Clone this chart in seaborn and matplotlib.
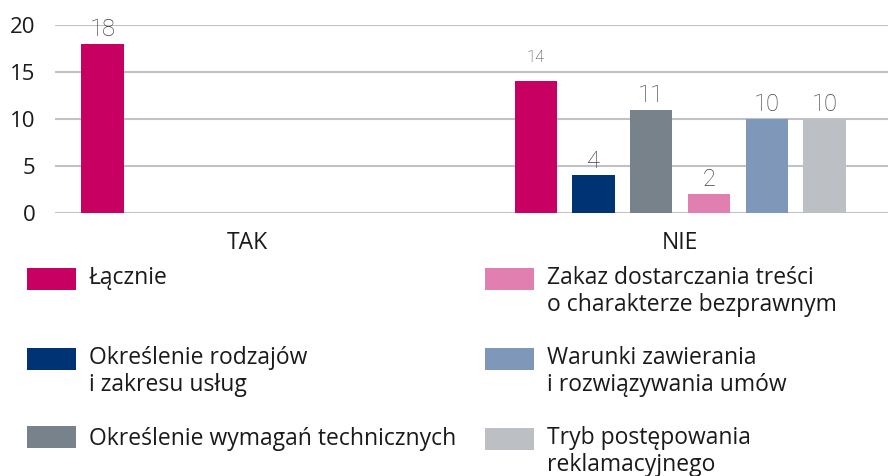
import numpy as np
import pandas as pd
import seaborn as sns
import matplotlib.pyplot as plt
from matplotlib.patches import Rectangle
from matplotlib.legend_handler import HandlerPatch

# dane
grupy = ['TAK', 'NIE']
kategorie = [
    'Łącznie',
    'Określenie rodzajów\ni zakresu usług',
    'Określenie wymagań technicznych',
    'Zakaz dostarczania treści\no charakterze bezprawnym',
    'Warunki zawierania\ni rozwiązywania umów',
    'Tryb postępowania\nreklamacyjnego',
]
wartosci_tak = [18, 0, 0, 0, 0, 0]
wartosci_nie = [14, 4, 11, 2, 10, 10]
kolory = ['#C70062', '#003373', '#78828B', '#E07FB0', '#7F98B9', '#BCC0C4']
y_ticks = [0, 5, 10, 15, 20]

df = pd.DataFrame({
    'grupa': np.repeat(grupy, len(kategorie)),
    'kategoria': kategorie * len(grupy),
    'liczba': wartosci_tak + wartosci_nie,
})

sns.set_theme(style='white')
plt.rcParams['font.family'] = ['Open Sans', 'DejaVu Sans']

fig = plt.figure(figsize=(8.88, 4.76), dpi=100)
ax = fig.add_axes([0.062, 0.5525, 0.938, 0.395])

sns.barplot(data=df, x='grupa', y='liczba', hue='kategoria', order=grupy,
            hue_order=kategorie, palette=kolory, saturation=1, width=0.8,
            gap=0.27, linewidth=0, legend=False, ax=ax, zorder=3)

ax.set_xlim(-0.443, 1.48)
ax.set_ylim(0, 20)
ax.set_yticks(y_ticks)
ax.set_xlabel('')
ax.set_ylabel('')
ax.grid(axis='y', color='#BFC2C6', linewidth=1.5, zorder=0)
ax.set_axisbelow(True)
sns.despine(ax=ax, left=True, bottom=True)
ax.tick_params(axis='y', length=0, pad=14, labelsize=16, labelcolor='#1a1a1a')
ax.tick_params(axis='x', length=0, pad=13, labelsize=16.5, labelcolor='#1a1a1a')

# etykiety wartosci (tylko niezerowe)
for i, cont in enumerate(ax.containers):
    etykiety = [f'{v:g}' if v > 0 else '' for v in cont.datavalues]
    teksty = ax.bar_label(cont, labels=etykiety, padding=2, fontsize=17,
                          color='#404040', family=['Roboto', 'DejaVu Sans'],
                          fontweight='light')
    if i == 0:
        # w grupie NIE etykieta "14" jest mniejsza i wyzej
        teksty[1].set_fontsize(12)
        teksty[1].xyann = (0, 12)

# legenda w dwoch kolumnach, kwadrat wyrownany do pierwszej linii
def kwadrat(legend, orig_handle, xdescent, ydescent, width, height, fontsize):
    return Rectangle((-xdescent, -ydescent + 0.58 * fontsize), width, height)

def kwadrat_prosty(legend, orig_handle, xdescent, ydescent, width, height, fontsize):
    return Rectangle((-xdescent, -ydescent), width, height)

uchwyty = [c.patches[1] for c in ax.containers]
# "Łącznie" dostaje pusta linie, zeby wiersze obu kolumn byly rowne
etykiety_leg = list(kategorie)
etykiety_leg[0] = etykiety_leg[0] + '\n '

mapa = {Rectangle: HandlerPatch(patch_func=kwadrat),
        uchwyty[2]: HandlerPatch(patch_func=kwadrat_prosty)}

for kol, x0 in [(0, 27 / 888), (1, 485 / 888)]:
    idx = range(kol * 3, kol * 3 + 3)
    leg = fig.legend([uchwyty[j] for j in idx], [etykiety_leg[j] for j in idx],
                     loc='upper left', bbox_to_anchor=(x0, 1 - 266 / 476),
                     frameon=False, fontsize=16.5, handlelength=2.14,
                     handleheight=1.09, handletextpad=0.55, labelspacing=1.28,
                     borderpad=0, borderaxespad=0, handler_map=mapa)
    for t in leg.get_texts():
        t.set_color('#1a1a1a')
        t.set_linespacing(1.15)

fig.savefig('out.png', dpi=100)
